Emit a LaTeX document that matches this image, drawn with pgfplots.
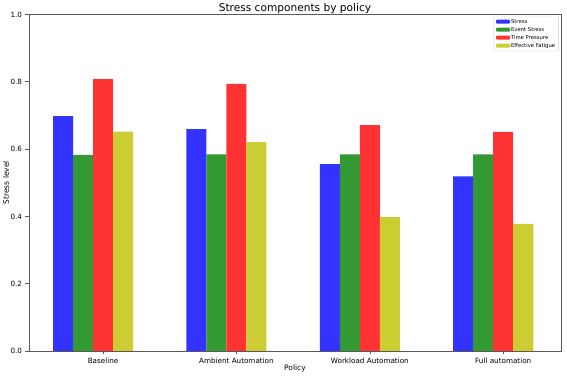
\documentclass[border=0pt]{standalone}
\usepackage{pgfplots}
\pgfplotsset{compat=1.18}
\usepackage{fontspec}
\setmainfont{DejaVu Sans}
\definecolor{cblue}{RGB}{51,51,255}
\definecolor{cgreen}{RGB}{51,153,51}
\definecolor{cred}{RGB}{255,51,51}
\definecolor{cyell}{RGB}{204,204,51}
\begin{document}
\begin{tikzpicture}
\useasboundingbox (0,0) rectangle (567pt,377pt);
\begin{axis}[
  at={(29pt,26pt)}, anchor=south west,
  scale only axis, width=532pt, height=336.5pt,
  xmin=-0.255, xmax=3.733, ymin=0, ymax=1,
  ybar, bar width=0.15, bar shift=0pt,
  legend image code/.code={\fill[#1,draw=none] (0pt,-2pt) rectangle (14pt,2pt);},
  axis line style={black!65, line width=0.6pt},
  tick style={black!65, line width=0.6pt},
  tick align=outside, major tick length=3.5pt,
  xtick={0.3,1.3,2.3,3.3},
  xticklabels={Baseline, Ambient Automation, Workload Automation, Full automation},
  ytick={0,0.2,0.4,0.6,0.8,1.0},
  yticklabel style={/pgf/number format/.cd, fixed, fixed zerofill, precision=1},
  /pgf/number format/assume math mode=true,
  ticklabel style={font=\fontsize{7.2}{8}\selectfont},
  xtick pos=bottom, ytick pos=left,
  every axis title shift=0pt,
  title={Stress components by policy},
  title style={font=\fontsize{10.6}{12}\selectfont, at={(axis description cs:0.5,1)}, anchor=base, yshift=2.5pt},
  xlabel={Policy},
  xlabel style={font=\fontsize{7.5}{9}\selectfont, at={(axis description cs:0.5,0)}, anchor=center, yshift=-17pt},
  ylabel={Stress level},
  ylabel style={font=\fontsize{7.5}{9}\selectfont, at={(axis description cs:-0.0432,0.5)}, anchor=center},
  legend style={at={(0.996,0.996)}, anchor=north east, draw=black!20, rounded corners=1pt,
    font=\fontsize{5.3}{6}\selectfont, inner xsep=2.5pt, inner ysep=1.5pt,
    nodes={inner sep=1pt, text height=4.5pt, text depth=1.5pt},
    /tikz/every even column/.append style={column sep=2pt}},
  legend cell align=left,
]
\addplot[fill=cblue, draw=none] coordinates {(0,0.698) (1,0.659) (2,0.555) (3,0.519)};
\addlegendentry{Stress}
\addplot[fill=cgreen, draw=none] coordinates {(0.15,0.583) (1.15,0.584) (2.15,0.584) (3.15,0.584)};
\addlegendentry{Event Stress}
\addplot[fill=cred, draw=none] coordinates {(0.3,0.808) (1.3,0.794) (2.3,0.671) (3.3,0.651)};
\addlegendentry{Time Pressure}
\addplot[fill=cyell, draw=none] coordinates {(0.45,0.652) (1.45,0.621) (2.45,0.398) (3.45,0.378)};
\addlegendentry{Effective Fatigue}
\end{axis}
\end{tikzpicture}
\end{document}
